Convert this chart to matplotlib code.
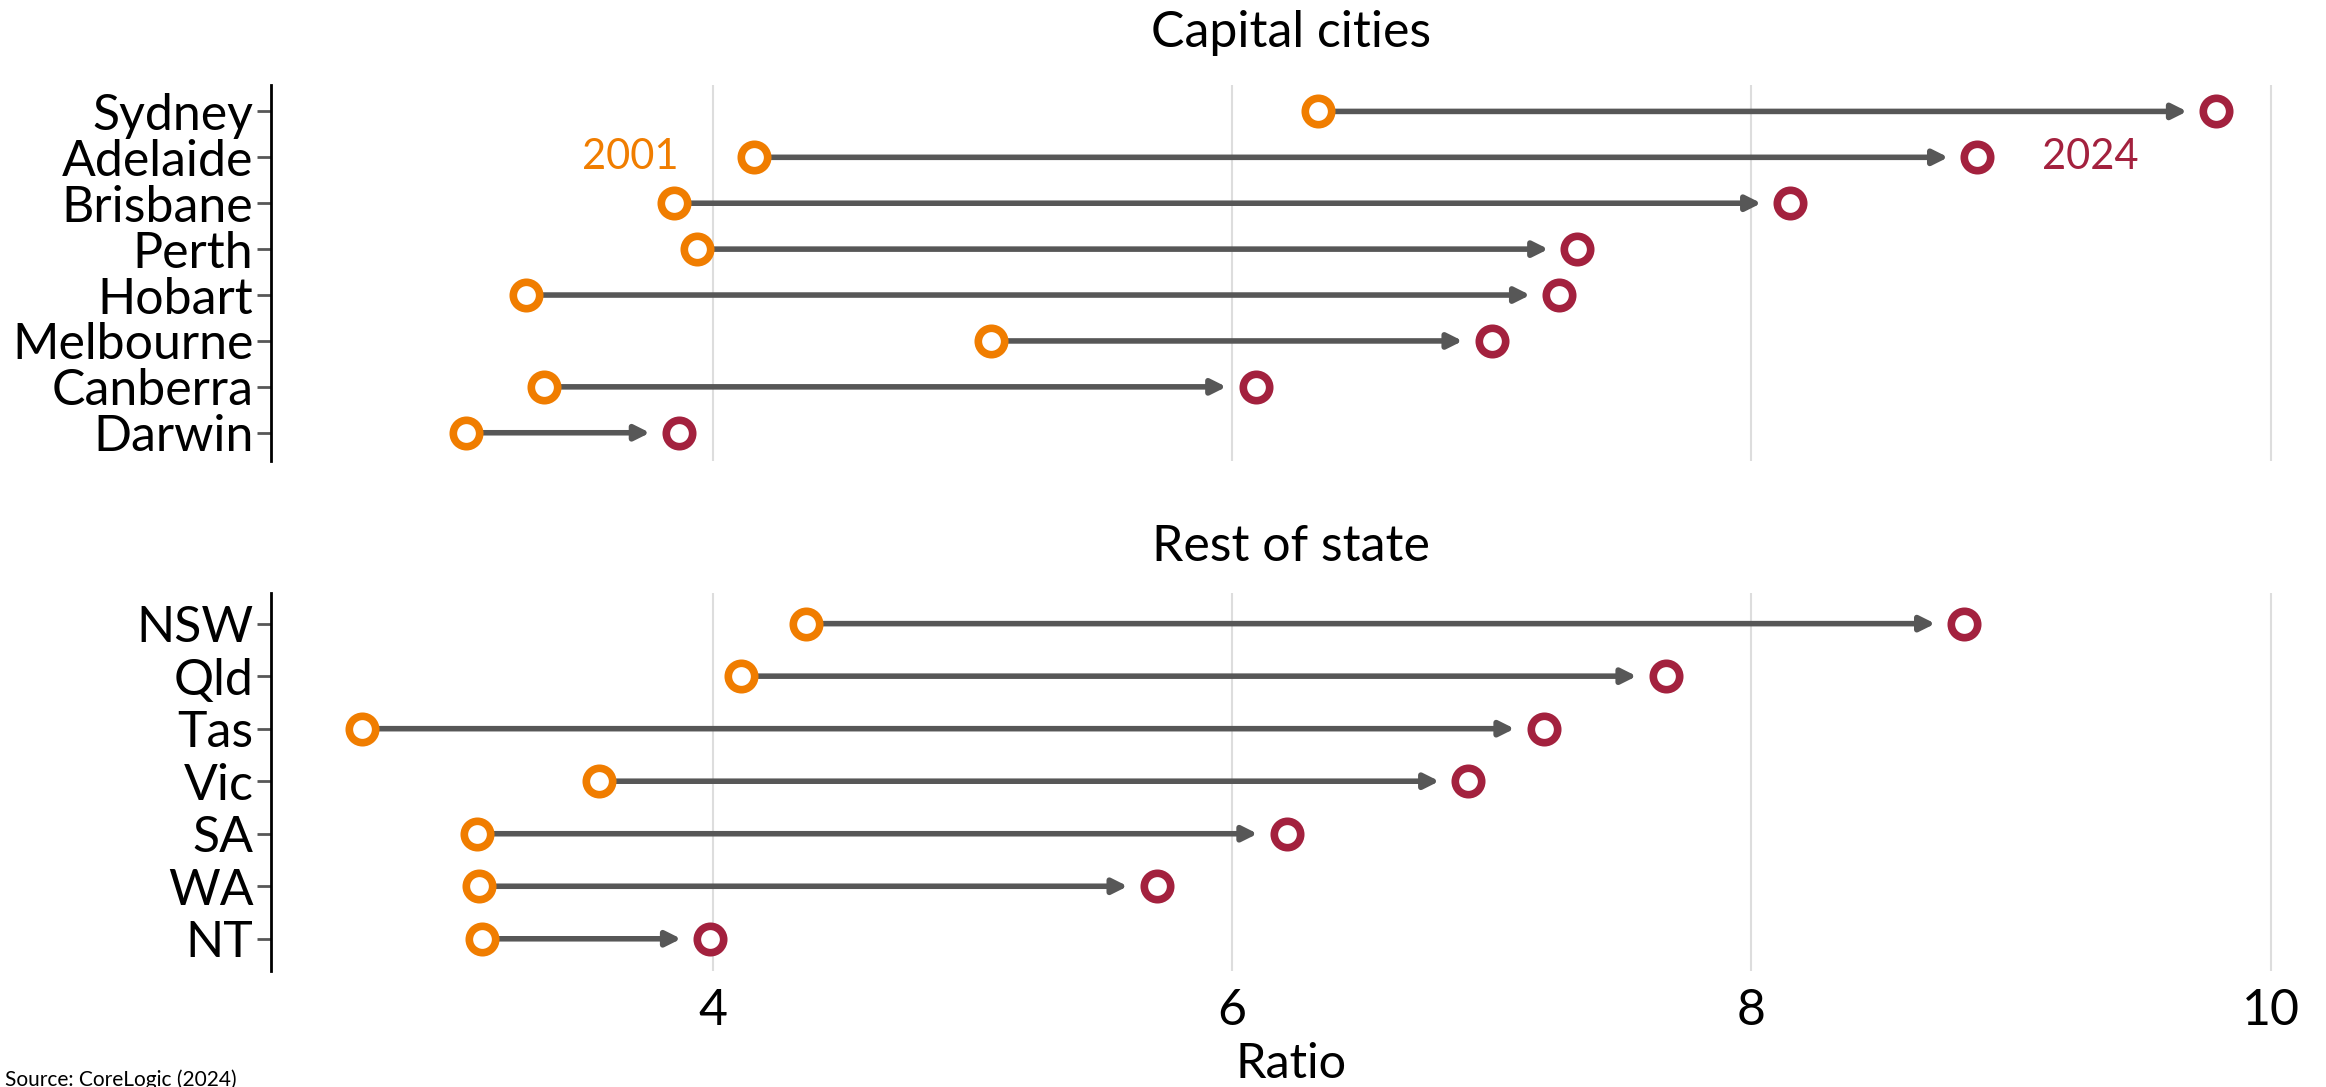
import matplotlib.pyplot as plt

# Data
capitals = ["Sydney", "Adelaide", "Brisbane", "Perth", "Hobart", "Melbourne", "Canberra", "Darwin"]
cap_2001 = [6.33, 4.16, 3.85, 3.94, 3.28, 5.07, 3.35, 3.05]
cap_2024 = [9.79, 8.87, 8.15, 7.33, 7.26, 7.00, 6.09, 3.87]

states = ["NSW", "Qld", "Tas", "Vic", "SA", "WA", "NT"]
st_2001 = [4.36, 4.11, 2.65, 3.56, 3.09, 3.10, 3.11]
st_2024 = [8.82, 7.67, 7.20, 6.91, 6.21, 5.71, 3.99]

xticks = [4, 6, 8, 10]

ORANGE = "#F07D00"
RED = "#A3213E"
GREY = "#575757"

plt.rcParams['font.family'] = ['Lato', 'DejaVu Sans']

fig = plt.figure(figsize=(23.26, 10.87), dpi=100)
ax1 = fig.add_axes([0.1167, 0.5757, 0.8763, 0.3463])
ax2 = fig.add_axes([0.1167, 0.1064, 0.8763, 0.3479])


def draw_panel(ax, labels, v01, v24, title, tpad):
    ys = list(range(len(labels)))
    for y, a, b in zip(ys, v01, v24):
        ax.annotate("", xy=(b, y), xytext=(a, y),
                    arrowprops=dict(arrowstyle='-|>', color=GREY, lw=4,
                                    shrinkA=0, shrinkB=21, mutation_scale=22))
    ax.plot(v01, ys, 'o', ms=19, mfc='white', mec=ORANGE, mew=5.5, zorder=5, ls='none')
    ax.plot(v24, ys, 'o', ms=19, mfc='white', mec=RED, mew=5.5, zorder=5, ls='none')
    ax.set_yticks(ys)
    ax.set_yticklabels(labels, fontsize=36)
    ax.set_ylim(len(labels) - 1 + 0.62, -0.58)
    ax.set_xlim(2.3, 10.15)
    ax.set_xticks(xticks)
    ax.grid(axis='x', color='#DDDDDD', lw=1.5)
    ax.set_axisbelow(True)
    for s in ['top', 'right', 'bottom']:
        ax.spines[s].set_visible(False)
    ax.spines['left'].set_linewidth(2)
    ax.tick_params(axis='y', length=10, width=2, color=GREY, pad=3)
    ax.tick_params(axis='x', length=0, labelsize=36, pad=12)
    ax.set_title(title, fontsize=36, pad=tpad)


draw_panel(ax1, capitals, cap_2001, cap_2024, "Capital cities", 27)
draw_panel(ax2, states, st_2001, st_2024, "Rest of state", 23)
ax1.tick_params(axis='x', labelbottom=False)

ax1.text(3.87, 1, "2001", color=ORANGE, fontsize=30, ha='right', va='center')
ax1.text(9.12, 1, "2024", color=RED, fontsize=30, ha='left', va='center')

ax2.set_xlabel("Ratio", fontsize=35, labelpad=6)

fig.text(0.002, 0.007, "Source: CoreLogic (2024)", fontsize=15, ha='left', va='center')

fig.savefig("out.png", dpi=100)
